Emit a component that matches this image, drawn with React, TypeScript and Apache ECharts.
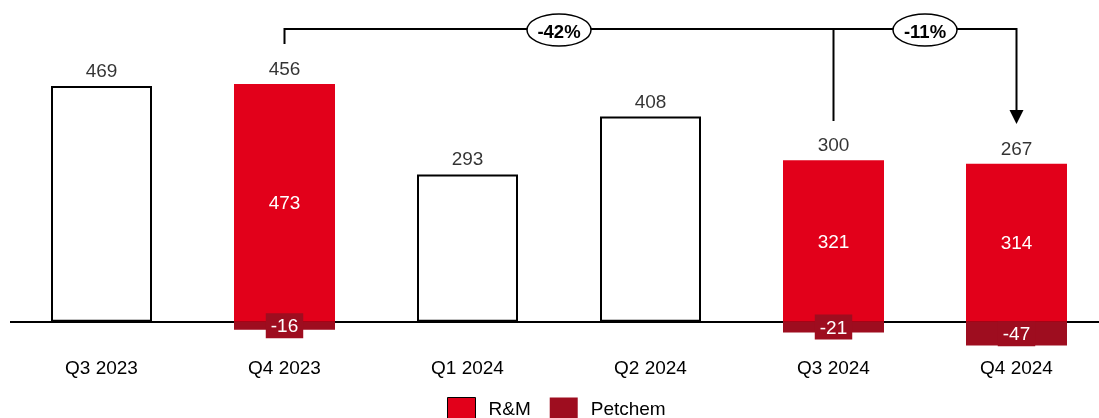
import React, { useEffect, useRef } from "react";
import * as echarts from "echarts";

const categories = ["Q3 2023", "Q4 2023", "Q1 2024", "Q2 2024", "Q3 2024", "Q4 2024"];
const totals = [469, 456, 293, 408, 300, 267];
const rmValues: (number | null)[] = [null, 473, null, null, 321, 314];
const petchemValues: (number | null)[] = [null, -16, null, null, -21, -47];
const changes = [
  { from: 1, to: 5, label: "-42%" },
  { from: 4, to: 5, label: "-11%" },
];

const RED = "#E2001A";
const DARK = "#9E0D1F";
const FONT = "Liberation Sans";
const FS = 19;

export default function App() {
  const ref = useRef<HTMLDivElement>(null);
  useEffect(() => {
    if (!ref.current) return;
    const chart = echarts.init(ref.current, null, { renderer: "svg" });
    const totalBars = totals.map((v, i) => (rmValues[i] == null ? v : "-"));
    const labelPos = totals.map((v, i) => [i, Math.max(v, rmValues[i] ?? 0)]);
    chart.setOption({
      animation: false,
      textStyle: { fontFamily: FONT },
      grid: { left: 10, right: -9, top: 20, bottom: 66, outerBoundsMode: "none", containLabel: false },
      legend: {
        top: 397,
        left: 447,
        padding: 0,
        icon: "rect",
        itemWidth: 28,
        itemHeight: 22,
        itemGap: 19,
        textStyle: { fontSize: FS, color: "#000", fontFamily: FONT, padding: [0, 0, 0, 8] },
        data: [
          { name: "R&M", itemStyle: { borderColor: "#000", borderWidth: 1 } },
          { name: "Petchem" },
        ],
      },
      xAxis: {
        type: "category",
        data: categories,
        axisLine: { show: false, onZero: false },
        axisTick: { show: false },
        axisLabel: { margin: 6, fontSize: FS, color: "#000", fontFamily: FONT },
      },
      yAxis: {
        type: "value",
        min: -60,
        max: 600,
        show: false,
        splitLine: { show: false },
      },
      series: [
        {
          name: "Total",
          type: "bar",
          stack: "s",
          barWidth: 101,
          data: totalBars,
          itemStyle: { color: "#fff", borderColor: "#000", borderWidth: 2 },
          markLine: {
            silent: true,
            symbol: "none",
            label: { show: false },
            lineStyle: { color: "#000", width: 2, type: "solid" },
            data: [{ yAxis: 0 }],
            z: 1,
          },
        },
        {
          name: "R&M",
          type: "bar",
          stack: "s",
          barWidth: 101,
          z: 3,
          data: rmValues.map((v) => (v == null ? "-" : v)),
          itemStyle: { color: RED },
          label: { show: true, position: "inside", color: "#fff", fontSize: FS, fontFamily: FONT },
        },
        {
          name: "Petchem",
          type: "bar",
          stack: "s",
          barWidth: 101,
          z: 3,
          data: petchemValues.map((v) => (v == null ? "-" : v)),
          itemStyle: { color: DARK },
          label: {
            show: true,
            position: "inside",
            color: "#fff",
            fontSize: FS,
            fontFamily: FONT,
            backgroundColor: DARK,
            padding: [4, 5, 2, 5],
          },
        },
        {
          name: "TotalLabel",
          type: "scatter",
          symbolSize: 0,
          data: labelPos,
          label: {
            show: true,
            position: "top",
            distance: 6,
            color: "#000",
            fontSize: FS,
            fontFamily: FONT,
            formatter: (p: any) => String(totals[p.dataIndex]),
          },
          silent: true,
        },
      ],
    });

    const px = (i: number) => chart.convertToPixel({ xAxisIndex: 0 }, categories[i]) as number;
    const yBracket = 29;
    const graphics: any[] = [];
    const lineStyle = { stroke: "#000", lineWidth: 2 };
    const x0 = px(changes[0].from);
    const xEnd = px(changes[0].to);
    const xMid = px(changes[1].from);
    graphics.push({ type: "polyline", shape: { points: [[x0, 44], [x0, yBracket], [xEnd, yBracket], [xEnd, 111]] }, style: { ...lineStyle, fill: null } });
    graphics.push({ type: "line", shape: { x1: xMid, y1: yBracket, x2: xMid, y2: 121 }, style: lineStyle });
    graphics.push({ type: "polygon", shape: { points: [[xEnd - 7, 110], [xEnd + 7, 110], [xEnd, 124]] }, style: { fill: "#000" } });
    changes.forEach((c, k) => {
      const next = k + 1 < changes.length ? changes[k + 1].from : c.to;
      const cx = (px(c.from) + px(next)) / 2;
      graphics.push({
        type: "ellipse",
        shape: { cx, cy: 30, rx: 32, ry: 16 },
        style: { fill: "#fff", stroke: "#000", lineWidth: 1.5 },
        z: 10,
      });
      graphics.push({
        type: "text",
        x: cx,
        y: 31,
        style: { text: c.label, fontSize: 18.5, fontWeight: "bold", fontFamily: FONT, fill: "#000", align: "center", verticalAlign: "middle" },
        z: 11,
      });
    });
    chart.setOption({ graphic: graphics });
    return () => chart.dispose();
  }, []);
  return <div ref={ref} style={{ position: "fixed", left: 0, top: 0, width: 1099, height: 418 }} />;
}
